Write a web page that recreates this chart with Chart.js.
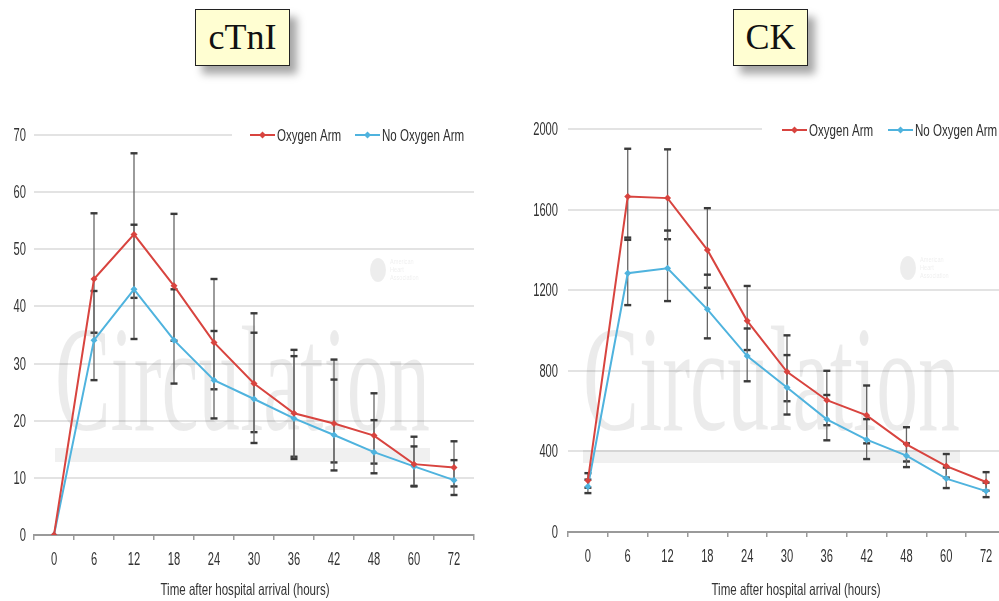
<!DOCTYPE html>
<html>
<head>
<meta charset="utf-8">
<script src="https://cdn.jsdelivr.net/npm/chart.js@4.4.1/dist/chart.umd.min.js"></script>
<style>
html, body { margin: 0; padding: 0; background: #fff; width: 999px; height: 601px; overflow: hidden; }
.panel { position: absolute; top: 100px; }
.tag {
    position: absolute; box-sizing: border-box; top: 9px; height: 57px;
    border: 1.5px solid #222; background: #fffed2;
    box-shadow: 7px 8px 8px rgba(0, 0, 0, 0.35);
    font-family: 'Liberation Serif', 'Times New Roman', serif; font-size: 36px;
    color: #111; text-align: center; line-height: 54px;
}
</style>
</head>
<body>
<div class="tag" style="left:195px;width:95px">cTnI</div>
<div class="tag" style="left:733px;width:75px">CK</div>
<canvas id="tnChart" class="panel" width="490" height="501" style="left:0"></canvas>
<canvas id="ckChart" class="panel" width="510" height="501" style="left:500px"></canvas>
<script>
// categories (hours after arrival)
const hours = ['0', '6', '12', '18', '24', '30', '36', '42', '48', '60', '72'];
const seriesNames = ['Oxygen Arm', 'No Oxygen Arm'];
const xTitle = 'Time after hospital arrival (hours)';

// cTnI
const tnTicks = [0, 10, 20, 30, 40, 50, 60, 70];
const tnOxy = [0, 44.8, 52.6, 43.6, 33.7, 26.5, 21.3, 19.5, 17.4, 12.4, 11.8];
const tnOxyHi = [0, 56.3, 66.8, 56.2, 44.8, 38.8, 32.4, 30.7, 24.8, 17.2, 16.4];
const tnOxyLo = [0, 35.4, 41.5, 34.0, 25.5, 18.0, 13.7, 12.7, 12.5, 8.6, 8.5];
const tnNoOxy = [0, 34.1, 43.0, 34.1, 27.1, 23.8, 20.4, 17.5, 14.5, 12.0, 9.6];
const tnNoOxyHi = [0, 42.7, 54.3, 43.0, 35.7, 35.4, 31.3, 27.2, 20.1, 15.5, 13.1];
const tnNoOxyLo = [0, 27.1, 34.3, 26.5, 20.4, 16.1, 13.3, 11.3, 10.8, 8.5, 7.0];

// CK
const ckTicks = [0, 400, 800, 1200, 1600, 2000];
const ckOxy = [256, 1665, 1657, 1400, 1048, 795, 654, 579, 435, 327, 248];
const ckOxyHi = [292, 1902, 1899, 1607, 1221, 976, 800, 727, 520, 387, 297];
const ckOxyLo = [220, 1461, 1453, 1212, 903, 649, 530, 440, 350, 270, 205];
const ckNoOxy = [226, 1284, 1309, 1105, 873, 717, 559, 458, 379, 265, 203];
const ckNoOxyHi = [260, 1450, 1496, 1277, 1010, 878, 680, 560, 440, 320, 245];
const ckNoOxyLo = [193, 1126, 1146, 961, 748, 583, 455, 362, 322, 218, 173];

const RED = '#d8443f';
const BLUE = '#4fb3de';
const SANS = "'Liberation Sans', Arial, sans-serif";
const SERIF = "'Liberation Serif', 'Times New Roman', serif";

// draw text horizontally compressed (the original uses a very condensed face)
function narrowText(ctx, text, x, y, align, squeeze) {
    ctx.save();
    ctx.translate(x, y);
    ctx.scale(squeeze, 1);
    ctx.textAlign = align;
    ctx.fillText(text, 0, 0);
    ctx.restore();
}

function decoPlugin(o) {
    return {
        id: 'deco',
        beforeDatasetsDraw(chart) {
            const ctx = chart.ctx;
            const area = chart.chartArea;
            const y = chart.scales.y;
            ctx.save();

            // faded journal watermark
            ctx.fillStyle = 'rgba(0,0,0,0.08)';
            ctx.font = '150px ' + SERIF;
            const w = ctx.measureText('Circulation').width;
            ctx.save();
            ctx.translate(o.mark.x0, o.mark.base);
            ctx.scale((o.mark.x1 - o.mark.x0) / w, 1);
            ctx.textBaseline = 'alphabetic';
            ctx.fillText('Circulation', 0, 0);
            ctx.restore();
            ctx.fillStyle = 'rgba(0,0,0,0.06)';
            ctx.fillRect(o.mark.x0, o.mark.band[0], o.mark.x1 - o.mark.x0, o.mark.band[1] - o.mark.band[0]);

            // small society logo
            ctx.fillStyle = 'rgba(0,0,0,0.07)';
            ctx.beginPath();
            ctx.ellipse(o.logo.x, o.logo.y, 8, 12, 0, 0, Math.PI * 2);
            ctx.fill();
            ctx.font = '8px ' + SANS;
            narrowText(ctx, 'American', o.logo.x + 12, o.logo.y - 6, 'left', 0.7);
            narrowText(ctx, 'Heart', o.logo.x + 12, o.logo.y + 2, 'left', 0.7);
            narrowText(ctx, 'Association', o.logo.x + 12, o.logo.y + 10, 'left', 0.7);

            // legend sits on a white patch over the top grid line
            ctx.fillStyle = '#fff';
            ctx.fillRect(o.legend.clearX, area.top - 4, area.right - o.legend.clearX + 2, 8);
            ctx.font = '17px ' + SANS;
            ctx.textBaseline = 'middle';
            chart.data.datasets.forEach((ds, i) => {
                const lx = o.legend.xs[i];
                const ly = o.legend.y;
                ctx.strokeStyle = ds.borderColor;
                ctx.lineWidth = 2;
                ctx.beginPath();
                ctx.moveTo(lx, ly);
                ctx.lineTo(lx + 25, ly);
                ctx.stroke();
                ctx.fillStyle = ds.borderColor;
                ctx.beginPath();
                ctx.moveTo(lx + 12.5, ly - 3.5);
                ctx.lineTo(lx + 16, ly);
                ctx.lineTo(lx + 12.5, ly + 3.5);
                ctx.lineTo(lx + 9, ly);
                ctx.closePath();
                ctx.fill();
                ctx.fillStyle = '#2e2e2e';
                narrowText(ctx, ds.label, lx + 27, ly + 1, 'left', 0.68);
            });

            // error bars
            ctx.strokeStyle = '#666';
            ctx.fillStyle = '#3a3a3a';
            ctx.lineWidth = 1.3;
            chart.data.datasets.forEach((ds, i) => {
                const meta = chart.getDatasetMeta(i);
                ds.hi.forEach((hi, j) => {
                    const lo = ds.lo[j];
                    if (hi === lo) return;
                    const px = meta.data[j].x;
                    const top = y.getPixelForValue(hi);
                    const bot = y.getPixelForValue(lo);
                    ctx.beginPath();
                    ctx.moveTo(px, top);
                    ctx.lineTo(px, bot);
                    ctx.stroke();
                    ctx.fillRect(px - 3.5, top - 1.2, 7, 2.4);
                    ctx.fillRect(px - 3.5, bot - 1.2, 7, 2.4);
                });
            });
            ctx.restore();
        },
        afterDraw(chart) {
            // axis texts, drawn condensed like the original
            const ctx = chart.ctx;
            const area = chart.chartArea;
            const xs = chart.scales.x;
            const ys = chart.scales.y;
            ctx.save();
            ctx.fillStyle = '#333';
            ctx.font = '18px ' + SANS;
            ctx.textBaseline = 'middle';
            o.ticks.forEach(v => {
                narrowText(ctx, String(v), area.left - o.yPad, ys.getPixelForValue(v) + 1, 'right', 0.62);
            });
            hours.forEach((h, i) => {
                narrowText(ctx, h, xs.getPixelForTick(i), area.bottom + 25, 'center', 0.62);
            });
            ctx.font = '16.5px ' + SANS;
            narrowText(ctx, xTitle, o.titleX, chart.height - 11, 'center', 0.7);
            ctx.restore();
        }
    };
}

function buildChart(id, o) {
    return new Chart(document.getElementById(id), {
        type: 'line',
        data: {
            labels: hours,
            datasets: [
                { label: seriesNames[0], data: o.oxy, hi: o.oxyHi, lo: o.oxyLo,
                  borderColor: RED, backgroundColor: RED, borderWidth: 2,
                  pointStyle: 'rectRot', pointRadius: 3.5, pointBorderWidth: 0, tension: 0 },
                { label: seriesNames[1], data: o.noOxy, hi: o.noOxyHi, lo: o.noOxyLo,
                  borderColor: BLUE, backgroundColor: BLUE, borderWidth: 2,
                  pointStyle: 'rectRot', pointRadius: 3.5, pointBorderWidth: 0, tension: 0 }
            ]
        },
        options: {
            responsive: false,
            animation: false,
            layout: { padding: { top: o.padTop, right: o.padRight, left: 0, bottom: 0 } },
            plugins: { legend: { display: false }, tooltip: { enabled: false } },
            scales: {
                x: {
                    type: 'category',
                    offset: true,
                    grid: { offset: true, drawOnChartArea: false, drawTicks: true, tickLength: 5, color: '#9a9a9a', lineWidth: 1.5 },
                    border: { display: true, color: '#9a9a9a', width: 2 },
                    ticks: { display: false, autoSkip: false },
                    afterFit: s => { s.height = o.xHeight; }
                },
                y: {
                    min: o.ticks[0],
                    max: o.ticks[o.ticks.length - 1],
                    afterBuildTicks: s => { s.ticks = o.ticks.map(v => ({ value: v })); },
                    grid: { color: '#e3e3e3', lineWidth: 2, drawTicks: false },
                    border: { display: false },
                    ticks: { display: false },
                    afterFit: s => { s.width = o.yWidth; }
                }
            }
        },
        plugins: [decoPlugin(o)]
    });
}

buildChart('tnChart', {
    oxy: tnOxy, oxyHi: tnOxyHi, oxyLo: tnOxyLo,
    noOxy: tnNoOxy, noOxyHi: tnNoOxyHi, noOxyLo: tnNoOxyLo,
    ticks: tnTicks,
    padTop: 35, padRight: 16, xHeight: 66, yWidth: 34, yPad: 8, titleX: 245,
    mark: { x0: 55, x1: 430, base: 330, band: [348, 362] },
    logo: { x: 378, y: 170 },
    legend: { clearX: 232, xs: [250, 355], y: 35 }
});

buildChart('ckChart', {
    oxy: ckOxy, oxyHi: ckOxyHi, oxyLo: ckOxyLo,
    noOxy: ckNoOxy, noOxyHi: ckNoOxyHi, noOxyLo: ckNoOxyLo,
    ticks: ckTicks,
    padTop: 29, padRight: 2, xHeight: 69, yWidth: 68, yPad: 10, titleX: 296,
    mark: { x0: 83, x1: 460, base: 330, band: [350, 363] },
    logo: { x: 408, y: 168 },
    legend: { clearX: 262, xs: [282, 388], y: 30 }
});
</script>
</body>
</html>
